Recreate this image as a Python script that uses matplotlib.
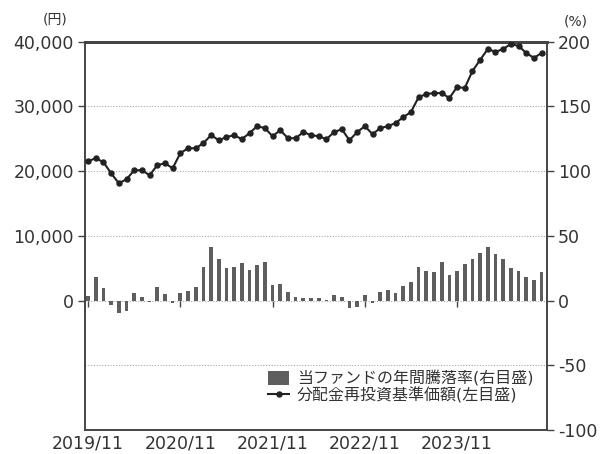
import matplotlib
matplotlib.use('Agg')
import matplotlib.pyplot as plt
import numpy as np
from matplotlib.patches import Patch
from matplotlib.lines import Line2D

plt.rcParams['font.family'] = ['DejaVu Sans', 'Noto Sans CJK JP']

# Monthly data, 2019/11 .. 2024/10
nav = [21530, 22000, 21380, 19670, 18120, 18740, 20140, 20140, 19360, 20910,
       21220, 20450, 22770, 23540, 23540, 24320, 25560, 24780, 25250, 25560,
       24940, 25870, 26950, 26640, 25400, 26330, 25090, 25090, 26020, 25560,
       25400, 24940, 26020, 26490, 24780, 26020, 26950, 25710, 26640, 26950,
       27420, 28350, 29120, 31440, 31910, 32060, 32060, 31290, 32990, 32840,
       35470, 37180, 38880, 38420, 38880, 39650, 39340, 38260, 37490, 38260]

annual_return = [3.8, 18.0, 10.0, -3.8, -9.5, -7.7, 5.9, 2.6, -1.0, 10.3,
                 5.1, -1.5, 5.9, 7.7, 10.3, 25.6, 41.0, 32.0, 25.0, 26.2,
                 29.2, 23.6, 27.4, 29.5, 12.0, 12.8, 6.4, 3.0, 2.0, 2.3,
                 1.8, 0.8, 4.0, 2.6, -6.0, -5.0, 4.0, -1.5, 6.4, 8.2,
                 5.7, 11.5, 14.0, 25.6, 23.0, 22.0, 29.5, 19.5, 23.0, 28.0,
                 32.0, 37.0, 41.0, 36.0, 32.0, 25.0, 23.0, 18.5, 16.0, 22.0]

tick_labels = ['2019/11', '2020/11', '2021/11', '2022/11', '2023/11']
tick_step = 12

left_ticks = [0, 10000, 20000, 30000, 40000]
left_tick_labels = ['0', '10,000', '20,000', '30,000', '40,000']
right_ticks = [-100, -50, 0, 50, 100, 150, 200]

bar_label = '当ファンドの年間騰落率(右目盛)'
line_label = '分配金再投資基準価額(左目盛)'

bar_color = '#5e5e5e'
line_color = '#222222'
spine_color = '#444444'
text_color = '#333333'

fig = plt.figure(figsize=(6.0, 4.54), dpi=100)
ax = fig.add_axes([85/600, 1-430/454, 462/600, 388.3/454])
axr = ax.twinx()

x = np.arange(len(nav))
axr.bar(x, annual_return, width=0.48, color=bar_color, zorder=2)
axr.set_ylim(-100, 200)
axr.set_yticks(right_ticks)
axr.set_yticklabels([str(v) for v in right_ticks])
axr.set_axisbelow(True)
axr.grid(axis='y', linestyle=(0, (1, 1.5)), color='#aaaaaa', linewidth=0.8)

xt = np.arange(0, len(nav), tick_step)
axr.vlines(xt, -5, 0, color=spine_color, linewidth=1.0, zorder=1)

ax.plot(x, nav, color=line_color, linewidth=1.5, marker='o', markersize=3.6, zorder=3)
ax.set_ylim(-20000, 40000)
ax.set_yticks(left_ticks)
ax.set_yticklabels(left_tick_labels)
ax.set_xlim(-0.4, len(nav) - 0.3)
ax.set_xticks(xt)
ax.set_xticklabels(tick_labels)
ax.set_zorder(axr.get_zorder() + 1)
ax.patch.set_visible(False)

for a in (ax, axr):
    for s in a.spines.values():
        s.set_color(spine_color)
        s.set_linewidth(1.2)
    a.spines['top'].set_linewidth(2.0)
    a.tick_params(axis='y', length=5, width=1.0, color=spine_color, pad=3,
                  labelsize=12.5, labelcolor=text_color)
ax.tick_params(axis='x', length=0, pad=3, labelsize=12.5, labelcolor=text_color)

ax.text(-0.065, 1.056, '(円)', transform=ax.transAxes, ha='center', va='center',
        fontsize=10, color=text_color)
ax.text(1.063, 1.051, '(%)', transform=ax.transAxes, ha='center', va='center',
        fontsize=10, color=text_color)

handles = [Patch(facecolor=bar_color, edgecolor='none'),
           Line2D([], [], color=line_color, linewidth=1.5, marker='o', markersize=3.6)]
leg = ax.legend(handles, [bar_label, line_label], loc='lower right',
                bbox_to_anchor=(0.995, 0.04), frameon=False, fontsize=11.5,
                handlelength=1.3, handleheight=1.0, handletextpad=0.5,
                labelspacing=0.05, borderpad=0.2)
for t in leg.get_texts():
    t.set_color(text_color)

fig.savefig('out.png', dpi=100)
